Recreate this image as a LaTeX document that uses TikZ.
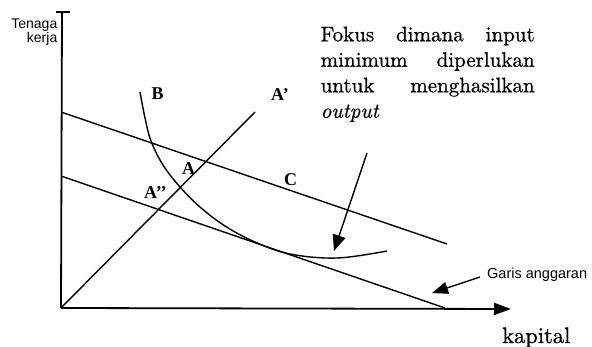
\documentclass[tikz,border=0pt]{standalone}
\usepackage{fontspec}
\newfontfamily\sansf{Liberation Sans}
\newfontfamily\serifb{Liberation Serif}
\newfontfamily\lmten{lmroman10-regular}[Extension=.otf, ItalicFont=lmroman10-italic, FakeBold=0.7]
\usetikzlibrary{arrows.meta}
\begin{document}
\begin{tikzpicture}[x=1pt,y=-1pt,
  thin line/.style={line width=1.4pt},
  axisline/.style={line width=1.8pt},
  bigtip/.style={-{Triangle[length=17pt,width=12pt]}},
  ptlabel/.style={font=\serifb\bfseries\fontsize{18}{18}\selectfont, inner sep=0pt, anchor=base west},
  notelabel/.style={font=\sansf\fontsize{14.5}{15}\selectfont, inner sep=0pt}]
\useasboundingbox (0,0) rectangle (592,347);
% axes
\coordinate (O) at (61,308);
\coordinate (Ytop) at (62,12);
\coordinate (YbarL) at (56,12);
\coordinate (YbarR) at (70,12);
\coordinate (Xend) at (511,309);
\draw[axisline] (O) -- (Ytop);
\draw[axisline] (YbarL) -- (YbarR);
\draw[axisline,bigtip] (O) -- (Xend);
% budget lines
\coordinate (U1) at (61,112);
\coordinate (U2) at (447,244);
\coordinate (L1) at (61,176);
\coordinate (L2) at (445,308);
\draw[thin line] (U1) -- (U2);
\draw[thin line] (L1) -- (L2);
% ray
\coordinate (R) at (255,112);
\draw[thin line] (O) -- (R);
% isoquant
\draw[thin line] plot[smooth, tension=0.6] coordinates {(140,92) (145,118) (151,141) (163,165) (180,187) (200,207) (225,226) (255,242) (290,254) (337,258) (387,251)};
% labels
\node[ptlabel] (B) at (151.5,100) {B};
\node[ptlabel] (Ap) at (271,100.5) {A’};
\node[ptlabel] (A) at (182,175) {A};
\node[ptlabel] (App) at (144,198.5) {A’’};
\node[ptlabel] (C) at (284,186) {C};
% focus text
\node[anchor=north west, inner sep=0pt, align=left, font=\lmten\fontsize{21}{25.5}\selectfont] (focus) at (320.5,26.5)
  {\makebox[214pt][s]{Fokus dimana input}\\
   \makebox[214pt][s]{minimum diperlukan}\\
   \makebox[214pt][s]{untuk menghasilkan}\\
   \textit{output}};
\coordinate (F1) at (367,153);
\coordinate (F2) at (334,251);
\draw[thin line,-{Triangle[length=16pt,width=13pt]}] (F1) -- (F2);
% budget label
\node[notelabel, anchor=base west] (garis) at (487,279) {Garis anggaran};
\coordinate (G1) at (480,277);
\coordinate (G2) at (432,293);
\draw[thin line,-{Triangle[length=16pt,width=12pt]}] (G1) -- (G2);
% axis labels
\node[anchor=base west, inner sep=0pt, font=\lmten\fontsize{22.5}{22.5}\selectfont] (kap) at (502,343) {kapital};
\node[notelabel, anchor=north east, align=right, font=\sansf\fontsize{14}{14}\selectfont] (tk) at (57.5,19) {Tenaga\\kerja};
\end{tikzpicture}
\end{document}
